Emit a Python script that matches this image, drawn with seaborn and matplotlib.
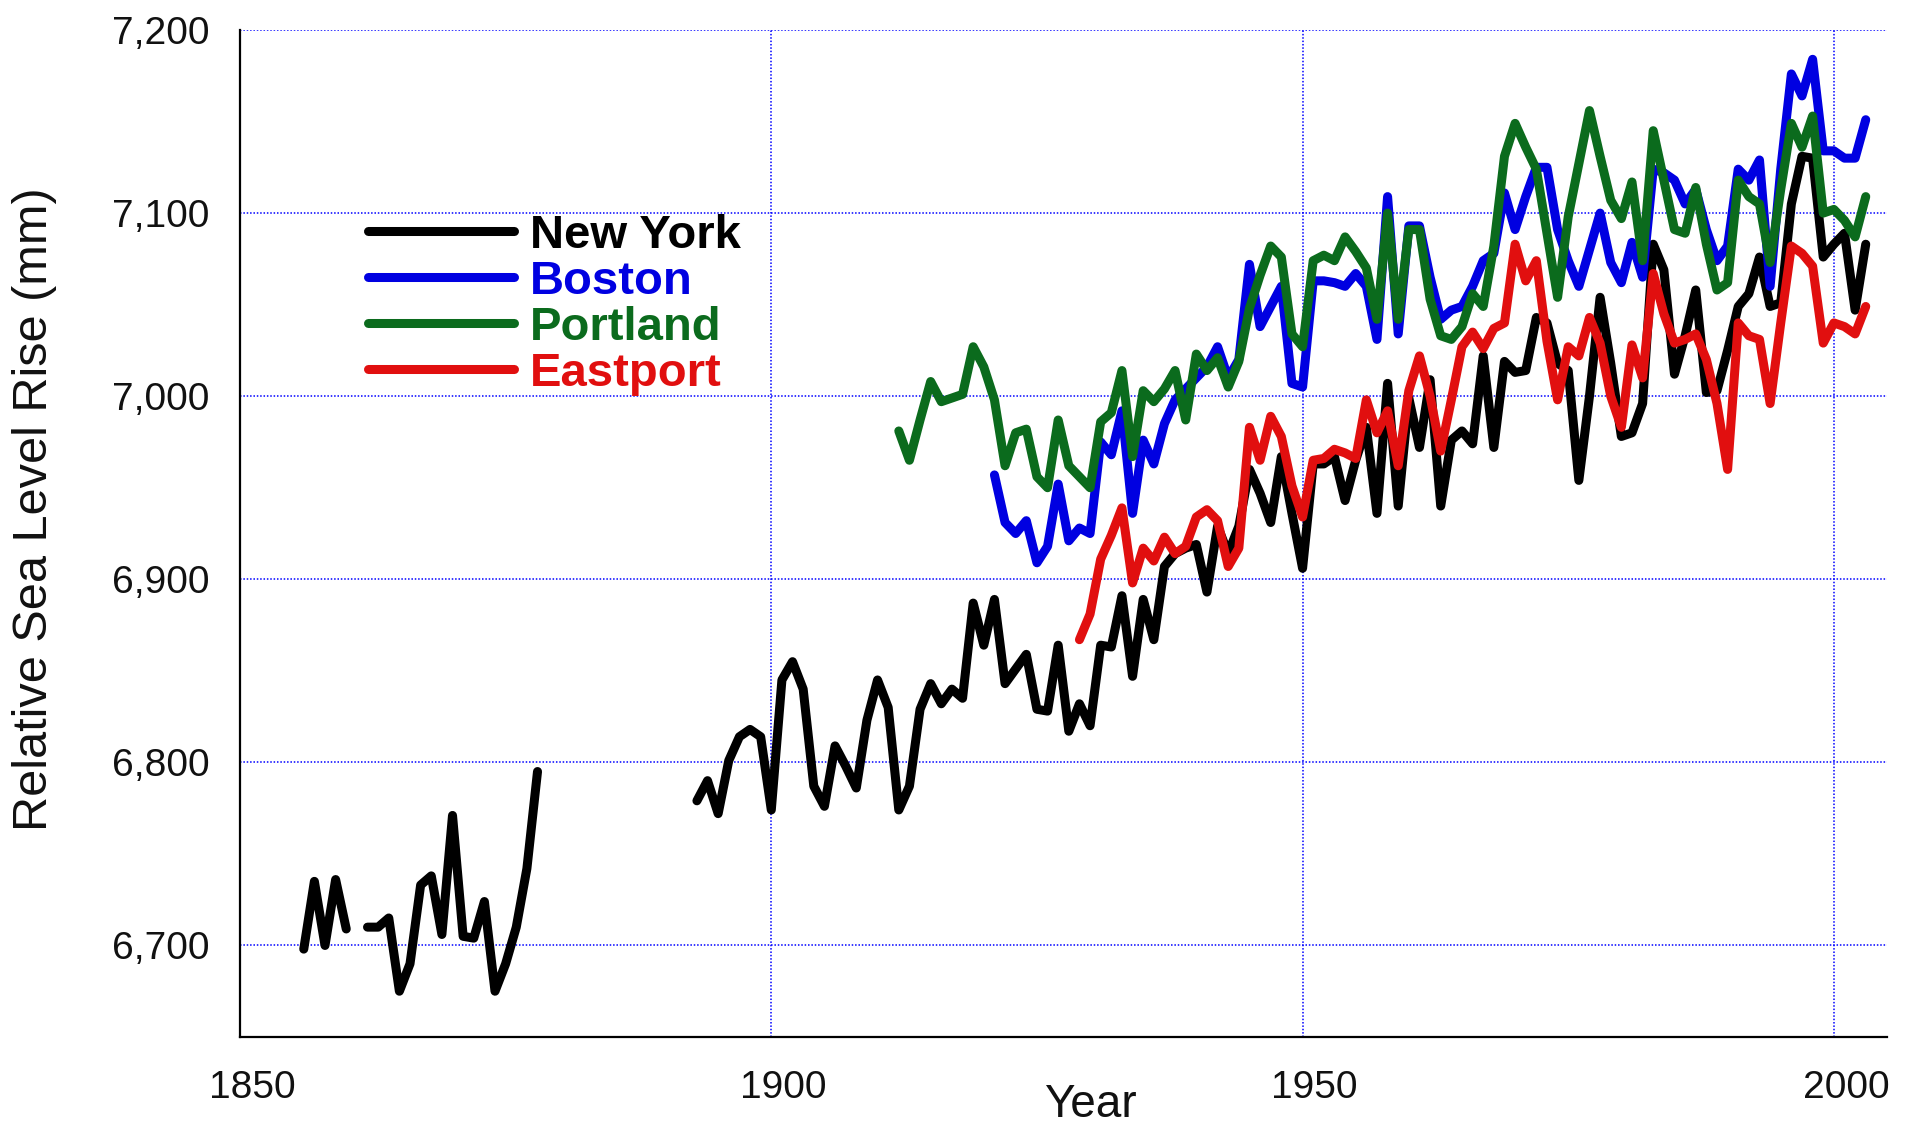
import numpy as np
import pandas as pd
import matplotlib
matplotlib.use("Agg")
import matplotlib.pyplot as plt
import matplotlib.transforms as mtransforms
from matplotlib.lines import Line2D
from matplotlib.ticker import MultipleLocator, FuncFormatter
import seaborn as sns

# ---------------- data ----------------
stations = ["New York", "Boston", "Portland", "Eastport"]
station_colors = ["#000000", "#0000e1", "#0b6b1d", "#e10f0f"]

ny_years_a = list(range(1856, 1861))
ny_vals_a = [6698, 6735, 6700, 6736, 6709]

ny_years_b = list(range(1862, 1879))
ny_vals_b = [6710, 6710, 6715, 6675, 6690, 6733, 6738, 6706, 6771, 6705,
             6704, 6724, 6675, 6690, 6710, 6742, 6795]

ny_years_c = list(range(1893, 2004))
ny_vals_c = [
    6779, 6790, 6772, 6801, 6814, 6818, 6814,                    # 1893-1899
    6774, 6845, 6855, 6840, 6787, 6776, 6809, 6798, 6786, 6823,  # 1900-1909
    6845, 6830, 6774, 6787, 6829, 6843, 6832, 6840, 6835, 6887,  # 1910-1919
    6864, 6889, 6843, 6851, 6859, 6829, 6828, 6864, 6817, 6832,  # 1920-1929
    6820, 6864, 6863, 6891, 6847, 6889, 6867, 6907, 6914, 6917,  # 1930-1939
    6919, 6893, 6929, 6914, 6929, 6960, 6947, 6931, 6967, 6936,  # 1940-1949
    6906, 6963, 6963, 6967, 6943, 6965, 6983, 6936, 7007, 6940,  # 1950-1959
    6999, 6972, 7009, 6940, 6976, 6981, 6974, 7022, 6972, 7019,  # 1960-1969
    7013, 7014, 7043, 7040, 7018, 7014, 6954, 7000, 7054, 7018,  # 1970-1979
    6978, 6980, 6996, 7083, 7069, 7012, 7033, 7058, 7002, 7003,  # 1980-1989
    7025, 7049, 7056, 7076, 7049, 7051, 7105, 7131, 7130, 7076,  # 1990-1999
    7083, 7089, 7047, 7083,                                      # 2000-2003
]

boston_years = list(range(1921, 2004))
boston_vals = [
    6957, 6931, 6925, 6932, 6909, 6918, 6952, 6921, 6928,        # 1921-1929
    6925, 6975, 6968, 6992, 6936, 6976, 6963, 6985, 6998, 7004,  # 1930-1939
    7010, 7016, 7027, 7010, 7020, 7072, 7038, 7049, 7060, 7007,  # 1940-1949
    7005, 7063, 7063, 7062, 7060, 7067, 7060, 7031, 7109, 7034,  # 1950-1959
    7093, 7093, 7065, 7042, 7047, 7049, 7060, 7074, 7078, 7111,  # 1960-1969
    7091, 7109, 7125, 7125, 7091, 7074, 7060, 7080, 7100, 7073,  # 1970-1979
    7062, 7084, 7065, 7124, 7122, 7118, 7105, 7113, 7091, 7074,  # 1980-1989
    7082, 7124, 7118, 7129, 7060, 7124, 7176, 7164, 7184, 7134,  # 1990-1999
    7134, 7130, 7130, 7151,                                      # 2000-2003
]

portland_years = list(range(1912, 2004))
portland_vals = [
    6981, 6965, 6987, 7008, 6997, 6999, 7001, 7027,              # 1912-1919
    7016, 6998, 6962, 6980, 6982, 6956, 6950, 6987, 6962, 6956,  # 1920-1929
    6950, 6986, 6991, 7014, 6967, 7003, 6997, 7004, 7014, 6987,  # 1930-1939
    7023, 7014, 7021, 7005, 7019, 7048, 7066, 7082, 7076, 7034,  # 1940-1949
    7027, 7074, 7077, 7074, 7087, 7079, 7070, 7042, 7100, 7042,  # 1950-1959
    7091, 7091, 7053, 7033, 7031, 7038, 7056, 7049, 7082, 7131,  # 1960-1969
    7149, 7136, 7124, 7089, 7054, 7098, 7127, 7156, 7131, 7107,  # 1970-1979
    7097, 7117, 7074, 7145, 7118, 7091, 7089, 7114, 7083, 7058,  # 1980-1989
    7062, 7118, 7109, 7105, 7073, 7113, 7149, 7136, 7153, 7100,  # 1990-1999
    7102, 7096, 7087, 7109,                                      # 2000-2003
]

eastport_years = list(range(1929, 2004))
eastport_vals = [
    6867,                                                        # 1929
    6881, 6911, 6924, 6939, 6898, 6917, 6910, 6923, 6914, 6918,  # 1930-1939
    6934, 6938, 6932, 6907, 6917, 6983, 6965, 6989, 6978, 6951,  # 1940-1949
    6934, 6965, 6966, 6971, 6969, 6966, 6998, 6980, 6992, 6962,  # 1950-1959
    7003, 7022, 7000, 6970, 6998, 7027, 7035, 7026, 7037, 7040,  # 1960-1969
    7083, 7063, 7074, 7030, 6998, 7027, 7022, 7043, 7029, 7000,  # 1970-1979
    6983, 7028, 7010, 7067, 7045, 7029, 7031, 7034, 7020, 6996,  # 1980-1989
    6960, 7040, 7033, 7031, 6996, 7040, 7082, 7078, 7071, 7029,  # 1990-1999
    7040, 7038, 7034, 7049,                                      # 2000-2003
]

x_ticks = [1850, 1900, 1950, 2000]
y_ticks = [6700, 6800, 6900, 7000, 7100, 7200]

# ---------------- build long-form table ----------------
frames = []
def add(name, seg, yrs, vals):
    frames.append(pd.DataFrame({"year": yrs, "value": vals,
                                "station": name, "segment": f"{name}-{seg}"}))

add("New York", "a", ny_years_a, ny_vals_a)
add("New York", "b", ny_years_b, ny_vals_b)
add("New York", "c", ny_years_c, ny_vals_c)
add("Boston", "a", boston_years, boston_vals)
add("Portland", "a", portland_years, portland_vals)
add("Eastport", "a", eastport_years, eastport_vals)
df = pd.concat(frames, ignore_index=True)

# ---------------- figure ----------------
sns.set_style("white")
plt.rcParams["font.family"] = ["Liberation Sans", "DejaVu Sans"]

W, H = 1911, 1127
fig = plt.figure(figsize=(W / 100, H / 100), dpi=100)
ax = fig.add_axes([240 / W, 1 - 1037 / H, (1887 - 240) / W, (1037 - 30) / H])

LW = 6.5
palette = dict(zip(stations, station_colors))
sns.lineplot(data=df, x="year", y="value", hue="station", units="segment",
             estimator=None, hue_order=stations, palette=palette,
             linewidth=LW, legend=False, ax=ax, sort=True, zorder=3)

ax.set_xlim(1850, 2005)
ax.set_ylim(6650, 7200)

ax.set_xticks(x_ticks)
ax.xaxis.set_minor_locator(MultipleLocator(5))
ax.set_yticks(y_ticks)
ax.yaxis.set_major_formatter(FuncFormatter(lambda v, p: f"{v:,.0f}"))

ax.grid(True, which="major", color="#0000ff", linestyle=(0, (1, 1.2)),
        linewidth=1.1, zorder=0)
ax.set_axisbelow(True)

for s in ["top", "right"]:
    ax.spines[s].set_visible(False)
for s in ["left", "bottom"]:
    ax.spines[s].set_color("black")
    ax.spines[s].set_linewidth(1.6)

ax.tick_params(axis="both", which="major", direction="out", length=12,
               width=1.5, color="black", labelsize=28, labelcolor="#111111")
ax.tick_params(axis="y", which="major", pad=10)
ax.tick_params(axis="x", which="major", pad=12)
ax.tick_params(axis="x", which="minor", direction="out", length=9.4,
               width=1.5, color="black")

ax.set_xlabel("Year", fontsize=33, color="#111111")
ax.set_ylabel("Relative Sea Level Rise (mm)", fontsize=35, color="#111111")
ax.xaxis.set_label_coords(0.516, -0.046)
ax.yaxis.set_label_coords(-0.111, 0.524)

offset = mtransforms.ScaledTranslation(12 / 100, 0, fig.dpi_scale_trans)
for lab in ax.get_xticklabels():
    lab.set_transform(lab.get_transform() + offset)

handles = [Line2D([], [], color=c, linewidth=LW) for c in station_colors]
leg = ax.legend(handles, stations, loc="upper left",
                bbox_to_anchor=(368 / W, 1 - 214 / H),
                bbox_transform=fig.transFigure, frameon=False,
                borderpad=0, borderaxespad=0, handlelength=3.1,
                handletextpad=0.33, labelspacing=0.04,
                prop={"family": "Liberation Sans", "weight": "bold", "size": 34})
for t, c in zip(leg.get_texts(), station_colors):
    t.set_color(c)

fig.savefig("out.png", dpi=100, facecolor="white")
